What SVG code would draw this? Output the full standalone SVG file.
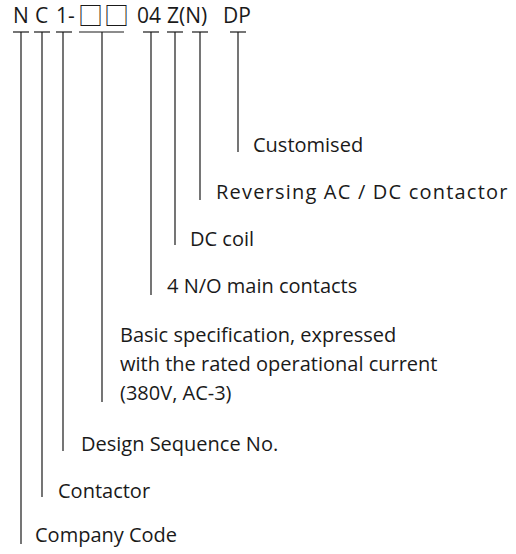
<svg xmlns="http://www.w3.org/2000/svg" width="516" height="554" viewBox="0 0 516 554">
<style>
text{font-family:"Open Sans","Noto Sans","DejaVu Sans",sans-serif;font-size:20px;fill:#1a1a1a}
.code{font-size:21px}
.sq{font-family:"Noto Sans CJK SC","DejaVu Sans",sans-serif;font-size:25px}
line{stroke:#1a1a1a;stroke-width:1.2}
</style>
<rect width="516" height="554" fill="#fff"/>
<g id="code">
<text class="code" y="23"><tspan x="13">N</tspan><tspan x="35">C</tspan><tspan x="56">1-</tspan><tspan class="sq" x="78" y="24.5">□</tspan><tspan class="sq" x="104" y="24.5">□</tspan><tspan x="137" y="23">04</tspan><tspan x="167">Z(N)</tspan><tspan x="223">DP</tspan></text>
</g>
<g id="connectors">
<line x1="13" y1="32" x2="29" y2="32"/><line x1="21" y1="32" x2="21" y2="544"/>
<line x1="34" y1="32" x2="50" y2="32"/><line x1="42" y1="32" x2="42" y2="497"/>
<line x1="56" y1="32" x2="72" y2="32"/><line x1="63" y1="32" x2="63" y2="451"/>
<line x1="79" y1="32" x2="124" y2="32"/><line x1="102" y1="32" x2="102" y2="402"/>
<line x1="143" y1="32" x2="159" y2="32"/><line x1="151" y1="32" x2="151" y2="295"/>
<line x1="167" y1="32" x2="183" y2="32"/><line x1="175" y1="32" x2="175" y2="245"/>
<line x1="192" y1="32" x2="208" y2="32"/><line x1="200" y1="32" x2="200" y2="200"/>
<line x1="230" y1="32" x2="246" y2="32"/><line x1="238" y1="32" x2="238" y2="152"/>
</g>
<g id="n-customised"><text x="253" y="152">Customised</text></g>
<g id="n-reversing"><text x="216" y="199" style="letter-spacing:1.2px">Reversing AC / DC contactor</text></g>
<g id="n-dccoil"><text x="190" y="246">DC coil</text></g>
<g id="n-contacts"><text x="167" y="293">4 N/O main contacts</text></g>
<g id="n-basic"><text x="120" y="342">Basic specification, expressed<tspan x="120" y="371">with the rated operational current</tspan><tspan x="120" y="400">(380V, AC-3)</tspan></text></g>
<g id="n-design"><text x="81" y="451">Design Sequence No.</text></g>
<g id="n-contactor"><text x="58" y="498">Contactor</text></g>
<g id="n-company"><text x="35" y="542">Company Code</text></g>
</svg>
